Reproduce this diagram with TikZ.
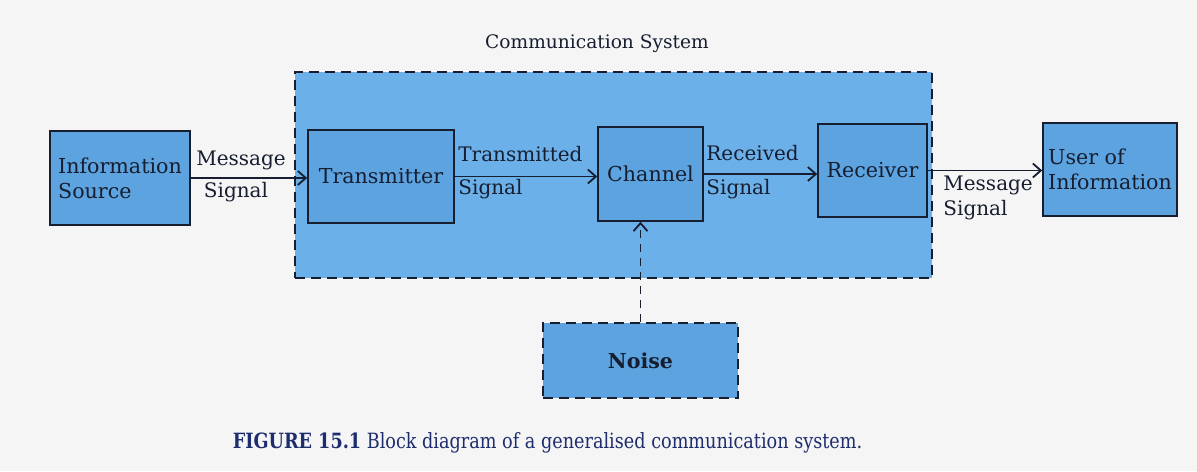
\documentclass[tikz,border=0pt]{standalone}
\usepackage{graphicx}
\usepackage{fontspec}
\setmainfont{DejaVu Serif}
\usetikzlibrary{arrows.meta}
\definecolor{boxblue}{RGB}{92,163,224}
\definecolor{regblue}{RGB}{108,176,234}
\definecolor{ink}{RGB}{22,30,48}
\definecolor{capblue}{RGB}{30,45,110}
\definecolor{paper}{RGB}{245,245,245}
\begin{document}
\begin{tikzpicture}[x=0.5pt,y=-0.5pt,
  blk/.style={draw=ink, fill=boxblue, line width=0.8pt, inner sep=0pt, text=ink,
              font=\fontsize{10.3}{12.5}\selectfont, align=left},
  lbl/.style={text=ink, font=\fontsize{10}{12.5}\selectfont, inner sep=0pt},
  arr/.style={draw=ink, line width=0.8pt, -{Straight Barb[length=4pt,width=7pt,line width=0.9pt]}},
  dsh/.style={dash pattern=on 5pt off 3pt, line width=0.8pt, draw=ink}]
\fill[paper] (0,0) rectangle (1197,471);
\useasboundingbox (0,0) rectangle (1197,471);
% communication system region
\node (sys) [dsh, fill=regblue, minimum width=318.5pt, minimum height=103pt, inner sep=0pt] at (613.5,175) {};
\node (systitle) [lbl, font=\fontsize{9.3}{12}\selectfont] at (597,44) {Communication System};
% blocks
\node (src) [blk, minimum width=70pt, minimum height=47pt] at (120,178) {Information\\Source};
\node (tx) [blk, minimum width=73pt, minimum height=46.5pt] at (381,176.5) {Transmitter};
\node (ch) [blk, minimum width=52.5pt, minimum height=47pt] at (650.5,174) {Channel};
\node (rx) [blk, minimum width=54.5pt, minimum height=46.5pt] at (872.5,170.5) {Receiver};
\node (usr) [blk, minimum width=67pt, minimum height=46.5pt] at (1110,169.5) {User of\\Information};
\node (noise) [blk, dsh, fill=boxblue, minimum width=97.5pt, minimum height=37.5pt, align=center] at (640.5,360.5) {\bfseries Noise};
% connectors
\draw[arr] (src.east) -- (src.east -| tx.west);
\draw[arr] (tx.east) -- (tx.east -| ch.west);
\draw[arr] (ch.east) -- (ch.east -| rx.west);
\draw[arr] (rx.east) -- (rx.east -| usr.west);
\draw[arr, dash pattern=on 4pt off 3pt] (noise.north) -- (noise.north |- ch.south);
% connector labels
\node (m1) [lbl] at (241,160) {Message};
\node (s1) [lbl] at (236,192) {Signal};
\node (m2) [lbl, anchor=west] at (458,154) {Transmitted};
\node (s2) [lbl, anchor=west] at (458,189) {Signal};
\node (m3) [lbl, anchor=west] at (706,153) {Received};
\node (s3) [lbl, anchor=west] at (706,189) {Signal};
\node (m4) [lbl, anchor=west] at (943,185) {Message};
\node (s4) [lbl, anchor=west] at (943,210) {Signal};
% caption
\node (cap) [inner sep=0pt, text=capblue, font=\fontsize{10.5}{12}\selectfont] at (547.5,443)
  {\scalebox{0.84}[1]{\textbf{FIGURE 15.1} Block diagram of a generalised communication system.}};
\end{tikzpicture}
\end{document}
